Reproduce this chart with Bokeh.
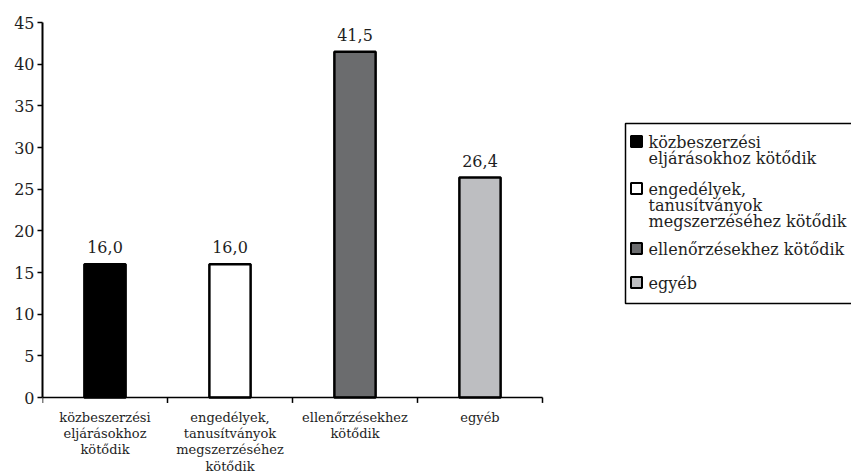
from bokeh.plotting import figure
from bokeh.models import Range1d, LinearAxis, FixedTicker, ColumnDataSource
from bokeh.core.properties import value
from bokeh.embed import file_html
from bokeh.resources import INLINE

categories = ["közbeszerzési\neljárásokhoz\nkötődik",
              "engedélyek,\ntanusítványok\nmegszerzéséhez\nkötődik",
              "ellenőrzésekhez\nkötődik",
              "egyéb"]
legend_labels = ["közbeszerzési\neljárásokhoz kötődik",
                 "engedélyek,\ntanusítványok\nmegszerzéséhez kötődik",
                 "ellenőrzésekhez kötődik",
                 "egyéb"]
values = [16.0, 16.0, 41.5, 26.4]
colors = ["#000000", "#ffffff", "#6b6c6e", "#bdbec1"]
y_ticks = [0, 5, 10, 15, 20, 25, 30, 35, 40, 45]

FONT = "DejaVu Serif"
TXT = "#1e1e1e"
n = len(values)
xc = [i + 0.5 for i in range(n)]
labels = [f"{v:.1f}".replace(".", ",") for v in values]

W, H = 851, 471
LEFT, TOP = 42, 22
PX_PER_X = 125.0          # pixels per category band
PX_PER_Y = 375.0 / 45.0   # pixels per y unit
x_max = (W - LEFT) / PX_PER_X
y_min = -(H - TOP - 375.0) / PX_PER_Y

def dx(px):  # page pixel -> data x
    return (px - LEFT) / PX_PER_X

def dy(py):  # page pixel -> data y
    return 45 - (py - TOP) / PX_PER_Y

src = ColumnDataSource(dict(x=xc, top=values, color=colors, lab=labels, cat=categories))

p = figure(width=W, height=H, output_backend="svg", toolbar_location=None,
           x_range=Range1d(0, x_max), y_range=Range1d(y_min, 45),
           min_border_left=LEFT, min_border_right=0, min_border_top=TOP, min_border_bottom=0,
           x_axis_type=None, y_axis_type=None)
p.outline_line_color = None
p.xgrid.visible = False
p.ygrid.visible = False

yax = LinearAxis(ticker=FixedTicker(ticks=y_ticks), bounds=(0, 45))
yax.axis_line_width = 2
yax.axis_line_color = "black"
yax.major_tick_out = 5
yax.major_tick_in = 0
yax.major_tick_line_width = 1.5
yax.minor_tick_line_color = None
yax.major_label_text_font = FONT
yax.major_label_text_font_size = "16px"
yax.major_label_text_color = TXT
yax.major_label_standoff = 3
p.add_layout(yax, "left")

bars = p.vbar(x="x", top="top", width=0.33, bottom=0, source=src,
              fill_color="color", line_color="black", line_width=2.5)

# x axis line and band boundary ticks
p.segment(x0=[0], y0=[0], x1=[n], y1=[0], line_color="black", line_width=1.5)
bounds_x = list(range(n + 1))
p.segment(x0=bounds_x, y0=[0] * (n + 1), x1=bounds_x, y1=[-0.65] * (n + 1),
          line_color="black", line_width=1.5)

p.text(x="x", y="top", text="lab", source=src, text_align="center", text_baseline="alphabetic",
       y_offset=-17, text_font=value(FONT), text_font_size="16px", text_color=TXT)

p.text(x="x", y=0, text="cat", source=src, text_align="center", text_baseline="top",
       y_offset=12, text_font=value(FONT), text_font_size="13px", text_color=TXT,
       text_line_height=1.09)

# legend box (drawn manually)
p.quad(left=[dx(625)], right=[dx(870)], top=[dy(123)], bottom=[dy(303)],
       fill_color="white", line_color="black", line_width=1.5)
leg_py = [141, 188, 248, 282]
leg_src = ColumnDataSource(dict(x=[dx(636)] * n, y=[dy(v) for v in leg_py],
                                tx=[dx(648)] * n, color=colors, lab=legend_labels))
p.scatter(x="x", y="y", source=leg_src, marker="square", size=11,
          fill_color="color", line_color="black", line_width=2)
p.text(x="tx", y="y", text="lab", source=leg_src, text_align="left", text_baseline="top",
       y_offset=-9, text_font=value(FONT), text_font_size="16px", text_color=TXT,
       text_line_height=0.85)

open("out.html", "w").write(file_html(p, INLINE))
